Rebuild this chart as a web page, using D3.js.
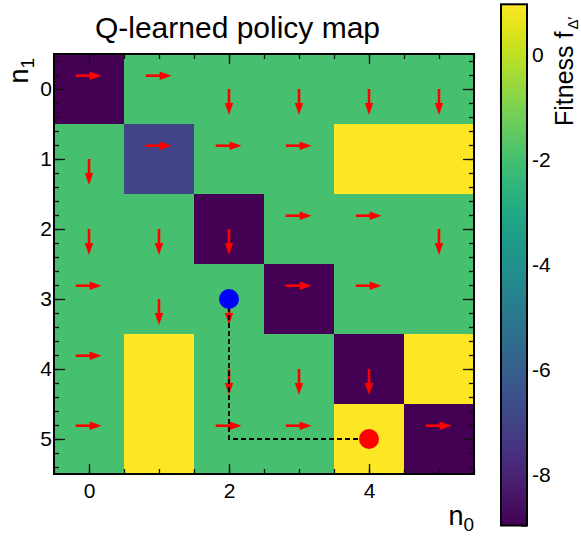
<!DOCTYPE html>
<html>
<head>
<meta charset="utf-8">
<script src="https://cdn.jsdelivr.net/npm/d3@7"></script>
<style>
  body { margin: 0; background: #fff; }
  svg text { font-family: "Liberation Sans", Arial, Helvetica, sans-serif; }
</style>
</head>
<body>
<div id="chart"></div>
<script>
// grid coordinates
const n0Values = [0, 1, 2, 3, 4, 5];
const n1Values = [0, 1, 2, 3, 4, 5];
// fitness per cell, rows = n1, cols = n0
const fitness = [
	[-9, -2, -2, -2, -2, -2],
	[-2, -7, -2, -2, 0.93, 0.93],
	[-2, -2, -9, -2, -2, -2],
	[-2, -2, -2, -9, -2, -2],
	[-2, 0.93, -2, -2, -9, 0.93],
	[-2, 0.93, -2, -2, 0.93, -9]
];
// learned action per cell: R = increase n0, D = increase n1
const policy = [
	['R', 'R', 'D', 'D', 'D', 'D'],
	['D', 'R', 'R', 'R', '', ''],
	['D', 'D', 'D', 'R', 'R', 'D'],
	['R', 'D', 'D', 'R', 'R', ''],
	['R', '', 'D', 'D', 'D', ''],
	['R', '', 'R', 'R', '', 'R']
];
const startState = [2, 3];
const goalState = [4, 5];
const pathStates = [[2, 3], [2, 5], [4, 5]];
const zDomain = [-9.0, 0.93];
const xLabelTicks = [0, 2, 4];
const yLabelTicks = [0, 1, 2, 3, 4, 5];
const zLabelTicks = [0, -2, -4, -6, -8];

const width = 581, height = 536;
const frame = { left: 54, top: 54, right: 474, bottom: 474 };

let svg = d3.select('#chart').append('svg')
	.attr('width', width)
	.attr('height', height);
svg.append('rect').attr('width', width).attr('height', height).attr('fill', '#fff');

let xScale = d3.scaleLinear().domain([-0.5, 5.5]).range([frame.left, frame.right]);
let yScale = d3.scaleLinear().domain([-0.5, 5.5]).range([frame.top, frame.bottom]);
let zScale = d3.scaleLinear().domain(zDomain).range([525.5, 4.3]);
let color = v => d3.interpolateViridis((v - zDomain[0]) / (zDomain[1] - zDomain[0]));
let unit = xScale(1) - xScale(0);

// cells
let cells = [];
n1Values.forEach((r, i) => n0Values.forEach((c, j) => cells.push({ c: c, r: r, v: fitness[i][j], a: policy[i][j] })));
svg.append('g').selectAll('rect').data(cells).join('rect')
	.attr('x', d => xScale(d.c - 0.5))
	.attr('y', d => yScale(d.r - 0.5))
	.attr('width', unit + 0.5)
	.attr('height', unit + 0.5)
	.attr('fill', d => color(d.v));

// arrows
let arrowG = svg.append('g');
let head = 12, half = 4.2;
cells.filter(d => d.a !== '').forEach(d => {
	let x0, y0, x1, y1;
	if (d.a === 'R') {
		x0 = xScale(d.c - 0.19); x1 = xScale(d.c + 0.18);
		y0 = y1 = yScale(d.r - 0.19);
		arrowG.append('line').attr('x1', x0).attr('y1', y0).attr('x2', x1 - head + 1).attr('y2', y1)
			.attr('stroke', '#ff0000').attr('stroke-width', 2.6);
		arrowG.append('path')
			.attr('d', `M${x1},${y1}L${x1 - head},${y1 - half}L${x1 - head},${y1 + half}Z`)
			.attr('fill', '#ff0000');
	} else {
		x0 = x1 = xScale(d.c);
		y0 = yScale(d.r); y1 = yScale(d.r + 0.37);
		arrowG.append('line').attr('x1', x0).attr('y1', y0).attr('x2', x1).attr('y2', y1 - head + 1)
			.attr('stroke', '#ff0000').attr('stroke-width', 2.6);
		arrowG.append('path')
			.attr('d', `M${x1},${y1}L${x1 - half},${y1 - head}L${x1 + half},${y1 - head}Z`)
			.attr('fill', '#ff0000');
	}
});

// path of the episode
svg.append('path')
	.attr('d', d3.line().x(p => xScale(p[0])).y(p => yScale(p[1]))(pathStates))
	.attr('fill', 'none')
	.attr('stroke', '#000')
	.attr('stroke-width', 1.8)
	.attr('stroke-dasharray', '5,3');
svg.append('circle').attr('cx', xScale(startState[0])).attr('cy', yScale(startState[1])).attr('r', 10).attr('fill', '#0000ff');
svg.append('circle').attr('cx', xScale(goalState[0])).attr('cy', yScale(goalState[1])).attr('r', 10).attr('fill', '#ff0000');

// axes (ticks inside the frame, ROOT style)
let fmt = d => String(d);
let xMinor = d3.range(-0.5, 5.51, 0.5);
let yMinor = d3.range(-0.4, 5.41, 0.2).map(v => +v.toFixed(1));
let axesG = svg.append('g').attr('class', 'axes');
function tickAxis(axis, tx, ty) {
	let g = axesG.append('g').attr('transform', `translate(${tx},${ty})`).call(axis);
	g.select('.domain').remove();
	g.selectAll('line').attr('stroke', '#111').attr('stroke-width', 1.3);
	g.selectAll('text').attr('font-size', '21px').attr('fill', '#000');
	return g;
}
tickAxis(d3.axisBottom(xScale).tickValues(xMinor).tickSize(-5).tickFormat(''), 0, frame.bottom);
tickAxis(d3.axisBottom(xScale).tickValues(xLabelTicks).tickSize(-10).tickPadding(9).tickFormat(fmt), 0, frame.bottom);
tickAxis(d3.axisTop(xScale).tickValues(xMinor).tickSize(-5).tickFormat(''), 0, frame.top);
tickAxis(d3.axisTop(xScale).tickValues(xLabelTicks).tickSize(-10).tickFormat(''), 0, frame.top);
tickAxis(d3.axisLeft(yScale).tickValues(yMinor).tickSize(-5).tickFormat(''), frame.left, 0);
tickAxis(d3.axisLeft(yScale).tickValues(yLabelTicks).tickSize(-11).tickPadding(2).tickFormat(fmt), frame.left, 0);
tickAxis(d3.axisRight(yScale).tickValues(yMinor).tickSize(-5).tickFormat(''), frame.right, 0);
tickAxis(d3.axisRight(yScale).tickValues(yLabelTicks).tickSize(-11).tickFormat(''), frame.right, 0);

svg.append('rect')
	.attr('x', frame.left).attr('y', frame.top)
	.attr('width', frame.right - frame.left).attr('height', frame.bottom - frame.top)
	.attr('fill', 'none').attr('stroke', '#000').attr('stroke-width', 2);

// colour bar
let bar = { x0: 501, x1: 527 };
let defs = svg.append('defs');
let grad = defs.append('linearGradient').attr('id', 'viridis').attr('x1', 0).attr('y1', 1).attr('x2', 0).attr('y2', 0);
d3.range(0, 1.001, 0.05).forEach(t => grad.append('stop').attr('offset', t).attr('stop-color', d3.interpolateViridis(t)));
svg.append('rect')
	.attr('x', bar.x0).attr('y', zScale(zDomain[1]))
	.attr('width', bar.x1 - bar.x0).attr('height', zScale(zDomain[0]) - zScale(zDomain[1]))
	.attr('fill', 'url(#viridis)');
let zMinor = d3.range(-9, 0.94, 0.5);
tickAxis(d3.axisRight(zScale).tickValues(zMinor).tickSize(-6).tickFormat(''), bar.x1, 0);
let zAx = tickAxis(d3.axisRight(zScale).tickValues(zLabelTicks).tickSize(-12).tickPadding(5).tickFormat(fmt), bar.x1, 0);
zAx.selectAll('text').attr('dy', '0.42em');
svg.append('rect')
	.attr('x', bar.x0).attr('y', zScale(zDomain[1]))
	.attr('width', bar.x1 - bar.x0).attr('height', zScale(zDomain[0]) - zScale(zDomain[1]))
	.attr('fill', 'none').attr('stroke', '#000').attr('stroke-width', 2);

// titles
svg.append('text')
	.attr('x', 237.5).attr('y', 38)
	.attr('text-anchor', 'middle')
	.attr('font-size', '30px')
	.text('Q-learned policy map');

let xTitle = svg.append('text')
	.attr('x', frame.right).attr('y', 525)
	.attr('text-anchor', 'end')
	.attr('font-size', '27px');
xTitle.append('tspan').text('n');
xTitle.append('tspan').attr('font-size', '19px').attr('dy', 6).text('0');

let yTitle = svg.append('text')
	.attr('transform', `translate(28,58) rotate(-90)`)
	.attr('text-anchor', 'end')
	.attr('font-size', '27px');
yTitle.append('tspan').text('n');
yTitle.append('tspan').attr('font-size', '19px').attr('dy', 6).text('1');

let zTitle = svg.append('text')
	.attr('transform', `translate(573,126) rotate(-90)`)
	.attr('text-anchor', 'start')
	.attr('font-size', '25px');
zTitle.append('tspan').text('Fitness f');
zTitle.append('tspan').attr('font-size', '15px').attr('dx', 2).attr('dy', 5).text('Δ′');
</script>
</body>
</html>
